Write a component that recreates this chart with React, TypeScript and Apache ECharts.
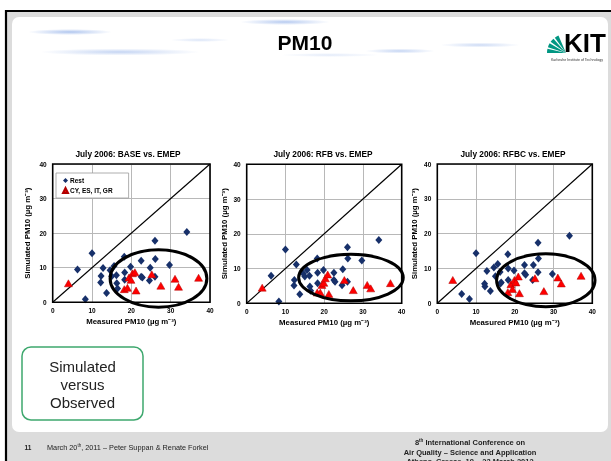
import React, { useEffect, useRef } from "react";
import * as echarts from "echarts";

// ---------- data ----------
const chartTitles = ["July 2006: BASE vs. EMEP", "July 2006: RFB vs. EMEP", "July 2006: RFBC vs. EMEP"];
const axisTicks = [0, 10, 20, 30, 40];
const seriesNames = ["Rest", "CY, ES, IT, GR"];

// measured PM10 at "Rest" stations (same for all runs)
const restMeasured = [6.3, 8.3, 10.0, 12.2, 12.3, 12.8, 13.7, 14.6, 15.0, 15.6, 16.2, 16.3, 16.5, 18.2, 18.3, 18.3, 19.8, 22.5, 22.5, 22.8, 24.6, 24.8, 26.0, 26.1, 26.0, 29.7, 34.1];
const restBase = [9.5, 0.9, 14.2, 5.7, 7.6, 9.9, 2.7, 9.3, 7.5, 10.5, 7.8, 5.5, 4.0, 13.2, 8.6, 6.5, 10.3, 12.0, 7.4, 7.2, 6.3, 10.0, 17.8, 12.5, 7.4, 10.8, 20.3];
const restRFB = [7.9, 0.5, 15.5, 5.1, 6.7, 11.2, 2.6, 8.6, 7.7, 9.6, 7.9, 4.8, 3.6, 12.9, 8.8, 5.8, 9.6, 8.8, 6.7, 6.2, 5.2, 9.8, 16.1, 12.9, 6.2, 12.3, 18.2];
const restRFBC = [2.7, 1.2, 14.4, 5.6, 4.8, 9.3, 3.5, 10.3, 7.8, 11.3, 9.0, 5.7, 6.0, 14.1, 10.0, 6.7, 9.4, 11.0, 8.6, 8.2, 6.7, 11.0, 17.4, 12.9, 8.9, 8.4, 19.4];

// measured PM10 at CY, ES, IT, GR stations
const southMeasured = [4.0, 18.2, 19.0, 19.4, 19.9, 20.3, 20.9, 21.2, 25.2, 27.5, 31.1, 32.0, 37.1];
const southBase = [5.5, 3.8, 4.2, 7.2, 6.5, 8.4, 8.7, 3.4, 8.1, 4.8, 6.8, 4.5, 7.1];
const southRFB = [4.5, 3.1, 3.1, 5.3, 5.9, 7.2, 8.3, 2.7, 6.7, 3.8, 5.3, 4.3, 5.8];
const southRFBC = [6.7, 3.2, 5.5, 4.1, 6.7, 6.0, 7.7, 2.9, 7.2, 3.5, 7.4, 5.7, 7.9];

// 1:1 line
const oneToOne = [[0, 0], [40, 40]];
// highlighted ellipse: [centre x, centre y, radius x, radius y] in data units
const ellipseBase = [26.9, 6.9, 12.3, 8.3];
const ellipseRFB = [26.9, 7.4, 13.5, 6.7];
const ellipseRFBC = [28.0, 6.6, 12.7, 7.6];

const restSim = [restBase, restRFB, restRFBC];
const southSim = [southBase, southRFB, southRFBC];
const ellipses = [ellipseBase, ellipseRFB, ellipseRFBC];

// ---------- layout ----------
const FONT = "'Liberation Sans', Arial, sans-serif";
const grids = [
  { left: 52.7, top: 164, width: 157.3, height: 138.3 },
  { left: 246.7, top: 164.3, width: 155, height: 139 },
  { left: 437.3, top: 164, width: 155, height: 139.3 },
];
const yNameGaps = [21, 18, 19];
const NAVY = "#17306a";
const RED = "#ff0000";

function zip(xs: number[], ys: number[]) {
  return xs.map((x, i) => [x, ys[i]]);
}

export default function App() {
  const ref = useRef<HTMLDivElement>(null);
  useEffect(() => {
    if (!ref.current) return;
    const chart = echarts.init(ref.current, null, { renderer: "svg" });

    const xAxes: any[] = [];
    const yAxes: any[] = [];
    const series: any[] = [];
    grids.forEach((g, i) => {
      xAxes.push({
        gridIndex: i,
        type: "value",
        min: axisTicks[0],
        max: axisTicks[axisTicks.length - 1],
        interval: axisTicks[1] - axisTicks[0],
        axisLine: { show: false },
        axisTick: { show: false },
        splitLine: { show: true, lineStyle: { color: "#b8b8b8", width: 1 } },
        axisLabel: { fontSize: 6.5, fontWeight: "bold", color: "#000", margin: 5, fontFamily: FONT },
        name: "Measured PM10 (µg m⁻³)",
        nameLocation: "middle",
        nameGap: 15,
        nameTextStyle: { fontSize: 7.8, fontWeight: "bold", color: "#000", fontFamily: FONT },
      });
      yAxes.push({
        gridIndex: i,
        type: "value",
        min: axisTicks[0],
        max: axisTicks[axisTicks.length - 1],
        interval: axisTicks[1] - axisTicks[0],
        axisLine: { show: false },
        axisTick: { show: false },
        splitLine: { show: true, lineStyle: { color: "#b8b8b8", width: 1 } },
        axisLabel: { fontSize: 6.5, fontWeight: "bold", color: "#000", margin: 6, fontFamily: FONT },
        name: "Simulated PM10 (µg m⁻³)",
        nameLocation: "middle",
        nameRotate: 90,
        nameGap: yNameGaps[i],
        nameTextStyle: { fontSize: 7.8, fontWeight: "bold", color: "#000", fontFamily: FONT },
      });
      series.push({
        type: "line",
        xAxisIndex: i,
        yAxisIndex: i,
        data: oneToOne,
        showSymbol: false,
        symbol: "none",
        lineStyle: { color: "#000", width: 1.2 },
        silent: true,
        z: 3,
      });
      series.push({
        name: seriesNames[0],
        type: "scatter",
        xAxisIndex: i,
        yAxisIndex: i,
        symbol: "diamond",
        symbolSize: [7, 8],
        itemStyle: { color: NAVY, opacity: 1 },
        data: zip(restMeasured, restSim[i]),
        z: 4,
      });
      series.push({
        name: seriesNames[1],
        type: "scatter",
        xAxisIndex: i,
        yAxisIndex: i,
        symbol: "triangle",
        symbolSize: [8, 7],
        itemStyle: { color: RED, borderColor: "#b00000", borderWidth: 0.5, opacity: 1 },
        data: zip(southMeasured, southSim[i]),
        z: 5,
      });
      series.push({
        type: "custom",
        xAxisIndex: i,
        yAxisIndex: i,
        clip: false,
        silent: true,
        z: 6,
        data: [ellipses[i]],
        renderItem: (params: any, api: any) => {
          const c = api.coord([api.value(0), api.value(1)]);
          const s = api.size([api.value(2), api.value(3)]);
          return {
            type: "ellipse",
            shape: { cx: c[0], cy: c[1], rx: s[0], ry: s[1] },
            style: { fill: "none", stroke: "#000", lineWidth: 3 },
          };
        },
      });
    });

    const streak = (cx: number, cy: number, rx: number, ry: number, a: number) => ({
      type: "ellipse",
      z: -50,
      silent: true,
      shape: { cx, cy, rx, ry },
      style: {
        fill: new echarts.graphic.RadialGradient(0.5, 0.5, 0.5, [
          { offset: 0, color: `rgba(110,150,225,${a})` },
          { offset: 1, color: "rgba(110,150,225,0)" },
        ]),
      },
    });

    const fanWedges: any[] = [];
    const wedgeAngles = [
      [Math.PI * 1.0, Math.PI * 1.07],
      [Math.PI * 1.1, Math.PI * 1.17],
      [Math.PI * 1.2, Math.PI * 1.27],
      [Math.PI * 1.3, Math.PI * 1.37],
    ];
    wedgeAngles.forEach((a) => {
      fanWedges.push({
        type: "sector",
        z: 60,
        shape: { cx: 566, cy: 53, r: 19, r0: 0, startAngle: a[0], endAngle: a[1] },
        style: { fill: "#009682" },
      });
    });

    const graphic: any[] = [
      { type: "rect", z: -100, silent: true, shape: { x: 0, y: 0, width: 611, height: 461 }, style: { fill: "#fff" } },
      { type: "rect", z: -99, silent: true, shape: { x: 6, y: 11, width: 640, height: 480 }, style: { fill: "#dcdcdc", stroke: "#000", lineWidth: 2.2 } },
      { type: "rect", z: -98, silent: true, shape: { x: 12, y: 17, width: 596, height: 415, r: 7 }, style: { fill: "#fff" } },
      streak(70, 32, 42, 3, 0.55),
      streak(120, 52, 80, 3.5, 0.4),
      streak(285, 22, 45, 3, 0.5),
      streak(200, 40, 30, 2, 0.25),
      streak(400, 51, 35, 2.5, 0.4),
      streak(480, 45, 40, 2.5, 0.35),
      streak(330, 55, 50, 2, 0.2),
      {
        type: "text", z: 60, style: { x: 305, y: 42, text: "PM10", fontSize: 21, fontWeight: "bold", fontFamily: FONT, fill: "#000", textAlign: "center", textVerticalAlign: "middle" },
      },
      ...fanWedges,
      {
        type: "text", z: 60, style: { x: 585, y: 43, text: "KIT", fontSize: 26, fontWeight: "bold", fontFamily: FONT, fill: "#000", textAlign: "center", textVerticalAlign: "middle" },
      },
      {
        type: "text", z: 60, style: { x: 603, y: 60, text: "Karlsruhe Institute of Technology", fontSize: 3.6, fontFamily: FONT, fill: "#333", textAlign: "right", textVerticalAlign: "middle" },
      },
      ...chartTitles.map((t, i) => ({
        type: "text", z: 60,
        style: { x: [128, 323, 513][i], y: 154, text: t, fontSize: 8.3, fontWeight: "bold", fontFamily: FONT, fill: "#000", textAlign: "center", textVerticalAlign: "middle" },
      })),
      // plot borders
      ...grids.map((g) => ({
        type: "rect", z: 20, silent: true,
        shape: { x: g.left, y: g.top, width: g.width, height: g.height },
        style: { fill: "none", stroke: "#000", lineWidth: 1.6 },
      })),
      { type: "rect", z: 60, shape: { x: 22, y: 347, width: 121, height: 73, r: 9 }, style: { fill: "#fff", stroke: "#3ea86e", lineWidth: 1.5 } },
      { type: "text", z: 61, style: { x: 82.5, y: 366, text: "Simulated", fontSize: 15, fontFamily: FONT, fill: "#222", textAlign: "center", textVerticalAlign: "middle" } },
      { type: "text", z: 61, style: { x: 82.5, y: 384, text: "versus", fontSize: 15, fontFamily: FONT, fill: "#222", textAlign: "center", textVerticalAlign: "middle" } },
      { type: "text", z: 61, style: { x: 82.5, y: 402, text: "Observed", fontSize: 15, fontFamily: FONT, fill: "#222", textAlign: "center", textVerticalAlign: "middle" } },
      { type: "text", z: 61, style: { x: 28, y: 447, text: "11", fontSize: 6.5, fontWeight: "bold", fontFamily: FONT, fill: "#222", textAlign: "center", textVerticalAlign: "middle" } },
      {
        type: "text", z: 61,
        style: {
          x: 47, y: 447, text: "March 20{s|th}, 2011 – Peter Suppan & Renate Forkel", fontSize: 7.3, fontFamily: FONT, fill: "#222", textAlign: "left", textVerticalAlign: "middle",
          rich: { s: { fontSize: 4.5, verticalAlign: "top", fontFamily: FONT, fill: "#222", padding: [0, 0, 3, 0] } },
        },
      },
      {
        type: "text", z: 61,
        style: {
          x: 470, y: 442, text: "8{s|th} International Conference on", fontSize: 7.5, fontWeight: "bold", fontFamily: FONT, fill: "#222", textAlign: "center", textVerticalAlign: "middle",
          rich: { s: { fontSize: 4.5, fontWeight: "bold", fontFamily: FONT, fill: "#222", padding: [0, 0, 3, 0] } },
        },
      },
      { type: "text", z: 61, style: { x: 470, y: 452, text: "Air Quality – Science and Application", fontSize: 7.5, fontWeight: "bold", fontFamily: FONT, fill: "#222", textAlign: "center", textVerticalAlign: "middle" } },
      { type: "text", z: 61, style: { x: 470, y: 461.5, text: "Athens, Greece, 19 – 23 March 2012", fontSize: 7.5, fontWeight: "bold", fontFamily: FONT, fill: "#222", textAlign: "center", textVerticalAlign: "middle" } },
    ];

    chart.setOption({
      animation: false,
      textStyle: { fontFamily: FONT },
      grid: grids.map((g) => ({ ...g, containLabel: false, show: true, backgroundColor: "#fff", borderWidth: 0 })),
      xAxis: xAxes,
      yAxis: yAxes,
      legend: {
        left: 56,
        top: 173,
        orient: "vertical",
        selectedMode: false,
        data: [
          { name: seriesNames[0], icon: "diamond" },
          { name: seriesNames[1], icon: "triangle" },
        ],
        itemWidth: 5,
        itemHeight: 5,
        itemGap: 3,
        padding: [4, 16, 4, 6],
        borderColor: "#9a9a9a",
        borderWidth: 0.8,
        backgroundColor: "#fff",
        z: 30,
        textStyle: { fontSize: 6.5, fontWeight: "bold", color: "#000", fontFamily: FONT, padding: [0, 0, 0, -3] },
      },
      series,
      graphic,
    });
    return () => chart.dispose();
  }, []);
  return <div ref={ref} style={{ position: "fixed", left: 0, top: 0, width: 611, height: 461 }} />;
}
